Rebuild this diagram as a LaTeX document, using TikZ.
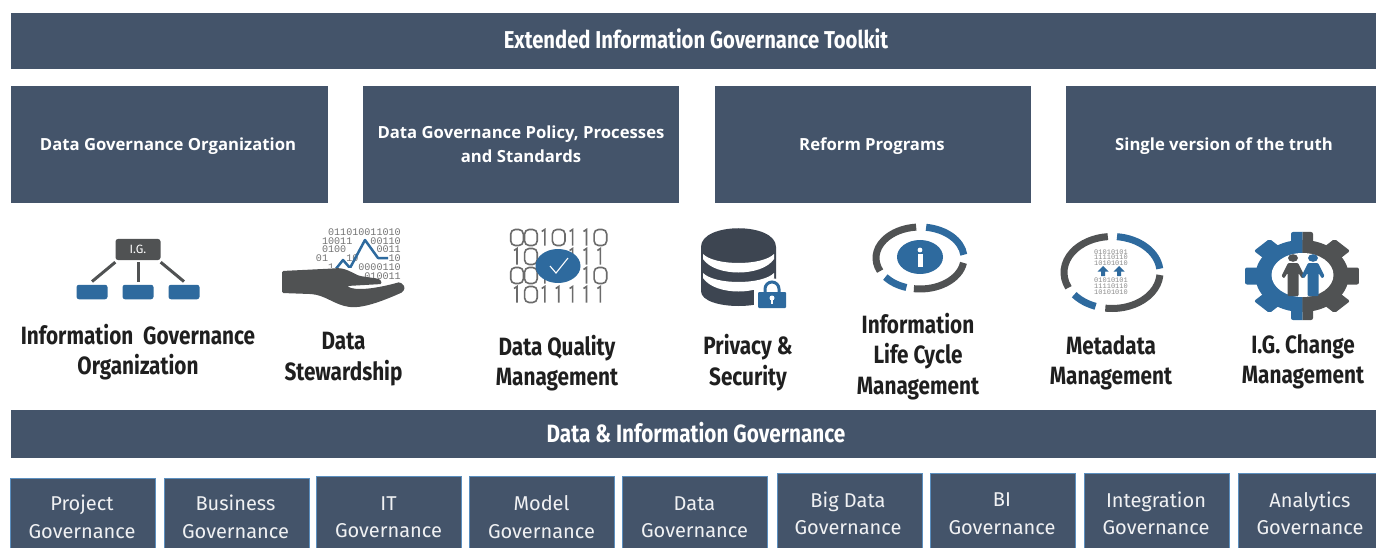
\documentclass[tikz,border=0pt]{standalone}
\usepackage{fontspec}
\setmainfont{Fira Sans}
\newfontfamily\condfont[FakeStretch=0.83]{Fira Sans}
\newfontfamily\headfont{Open Sans}
\newfontfamily\bitfont{Liberation Mono}
\definecolor{slate}{HTML}{44546A}
\definecolor{iconblue}{HTML}{2E6A9E}
\definecolor{icongray}{HTML}{505253}
\definecolor{dbdark}{HTML}{3D4551}
\definecolor{edgeblue}{HTML}{5B8FBF}
\newcommand{\gearshape}[1]{%
  \begin{scope}[shift={(1302,276)},xscale=1.295]
    \fill[#1] (0,0) circle[radius=36];
    \foreach \a in {0,45,...,315}
      \fill[#1,rotate=\a,rounded corners=2] (-8.5,-44) rectangle (8.5,0);
  \end{scope}}
\newcommand{\bigbit}[3]{% column, row, digit
  \pgfmathsetmacro{\bx}{517+13.9*#1}
  \pgfmathsetmacro{\by}{237.5+19*#2}
  \ifnum#3=0
    \draw[bitline,rounded corners=4.5] (\bx-6.3,\by-8) rectangle (\bx+6.3,\by+8);
  \else
    \draw[bitline] (\bx-3,\by-6) -- (\bx,\by-8) -- (\bx,\by+8);
  \fi}
\tikzset{
  card/.style={fill=slate,text=white,align=center,inner sep=0pt,font=\headfont\bfseries\fontsize{16.7}{24}\selectfont},
  gov/.style={fill=slate,draw=edgeblue,line width=.8pt,inner sep=0pt},
  govtext/.style={align=center,inner sep=0pt,text=white!92!slate,font=\fontsize{20}{27.5}\selectfont},
  label/.style={text=black!88,align=center,inner sep=0pt,font=\condfont\bfseries\fontsize{25}{30.5}\selectfont},
  ring/.style={line width=7pt,draw=#1},
  link/.style={draw=icongray,line width=3pt},
  bitline/.style={draw=black!58,line width=1.6pt},
  bits/.style={inner sep=0pt,text=black!55,font=\bitfont\fontsize{10.1}{10}\selectfont},
  tinybits/.style={inner sep=0pt,text=black!45,font=\bitfont\fontsize{7}{7}\selectfont},
}
\begin{document}
\begin{tikzpicture}[x=1pt,y=-1pt]
\useasboundingbox (0,0) rectangle (1376,548);
\fill[white] (0,0) rectangle (1376,548);

% bands
\fill[slate] (11,13) rectangle (1376,69);
\node[text=white,inner sep=0pt,font=\condfont\bfseries\fontsize{24.4}{30}\selectfont] (title) at (696,39) {Extended Information Governance Toolkit};
\fill[slate] (11,410) rectangle (1376,458);
\node[text=white,inner sep=0pt,font=\condfont\bfseries\fontsize{25}{30}\selectfont] (digov) at (696,433) {Data \& Information Governance};

% cards
\node[card,minimum width=317pt,minimum height=117pt] (c1) at (169.5,144.5) {};
\node[card,fill=none] (c1t) at (168,146.5) {Data Governance Organization};
\node[card,minimum width=316pt,minimum height=117pt] (c2) at (521,144.5) {Data Governance Policy, Processes\\and Standards};
\node[card,minimum width=316pt,minimum height=117pt] (c3) at (873,144.5) {};
\node[card,fill=none] (c3t) at (872,146.5) {Reform Programs};
\fill[slate] (1066,86) rectangle (1376,203);
\node[card,fill=none] (c4) at (1224,146.5) {Single version of the truth};

% icon 1
\node[fill=icongray,rounded corners=2.5pt,minimum width=45pt,minimum height=21pt,inner sep=0pt,text=white!75,font=\fontsize{12}{12}\selectfont] (ig) at (138,249.5) {I.G.};
\node[fill=iconblue,rounded corners=2.5pt,minimum width=31pt,minimum height=14.5pt,inner sep=0pt] (ig1) at (92,292) {};
\node[fill=iconblue,rounded corners=2.5pt,minimum width=31pt,minimum height=14.5pt,inner sep=0pt] (ig2) at (138,292) {};
\node[fill=iconblue,rounded corners=2.5pt,minimum width=31pt,minimum height=14.5pt,inner sep=0pt] (ig3) at (184,292) {};
\draw[link] ([yshift=-2pt]ig.south west) -- ([yshift=3pt]ig1.north);
\draw[link] ([yshift=-2pt]ig.south) -- ([yshift=3pt]ig2.north);
\draw[link] ([yshift=-2pt]ig.south east) -- ([yshift=3pt]ig3.north);

% icon 2
\node[bits,anchor=east] (b1) at (401,232) {011010011010};
\node[bits,anchor=east] (b2) at (401,241) {10011\ \ \ 00110};
\node[bits,anchor=east] (b3) at (401,249.5) {0100\ \ \ \ \ 0011};
\node[bits,anchor=east] (b4) at (401,258) {01\ \ \ 10\ \ \ \ \ 10};
\node[bits,anchor=east] (b5) at (401,267) {1\ \ \ \ 0000110};
\node[bits,anchor=east] (b6) at (401,276) {010011};
\draw[iconblue,line width=2.5pt,line join=round] (335,270) -- (343,260) -- (350,268) -- (365,240) -- (378,258) -- (388,258);
\fill[white] (282,268) rectangle (355,275);
\fill[icongray,rounded corners=1.5pt] (282,271) -- (333,268.5) .. controls (345,267) and (352,273) .. (360,276) -- (380,279) -- (382,284) -- (347,286) .. controls (355,291) and (375,289) .. (400,282) -- (405,287) -- (403,292) .. controls (385,300) and (365,308) .. (350,307) .. controls (335,305) and (325,295) .. (310,294) -- (282,293) -- cycle;

% icon 3
\foreach \c/\d in {0/0,1/0,2/1,3/0,4/1,5/1,6/0} {\bigbit{\c}{0}{\d}}
\foreach \c/\d in {0/1,1/0,4/1,5/1,6/1} {\bigbit{\c}{1}{\d}}
\foreach \c/\d in {0/0,1/0,2/1,5/1,6/0} {\bigbit{\c}{2}{\d}}
\foreach \c/\d in {0/1,1/0,2/1,3/1,4/1,5/1,6/1} {\bigbit{\c}{3}{\d}}
\fill[iconblue] (558,266) ellipse[x radius=22.5,y radius=17];
\draw[white,line width=1.1pt] (550,266) -- (556,273) -- (568,258);

% icon 4
\fill[dbdark,rounded corners=3pt] (701,250) .. controls (701,222) and (776,222) .. (776,250) -- (776,288) .. controls (776,311) and (701,311) .. (701,288) -- cycle;
\fill[white] (703,254) .. controls (715,266) and (762,266) .. (774,254) -- (774,259) .. controls (762,277) and (715,277) .. (703,259) -- cycle;
\fill[white] (703,273) .. controls (715,285) and (762,285) .. (774,273) -- (774,278) .. controls (762,296) and (715,296) .. (703,278) -- cycle;
\fill[white] (754,287) rectangle (790,312);
\fill[white] (772,291) circle[radius=13];
\draw[iconblue,line width=3pt] (765,294) -- (765,289) arc[start angle=180,end angle=360,radius=7] -- (779,294);
\fill[iconblue,rounded corners=1pt] (758,292) rectangle (786,308);
\fill[white] (772,298) circle[radius=2.5];
\fill[white] (771,299) rectangle (773,304);

% icon 5
\draw[ring=icongray] (920,258) ++(155:44 and 31) arc[start angle=155,end angle=265,x radius=44,y radius=31];
\draw[ring=iconblue] (920,258) ++(-82:44 and 31) arc[start angle=-82,end angle=-6,x radius=44,y radius=31];
\draw[ring=icongray] (920,258) ++(9:44 and 31) arc[start angle=9,end angle=98,x radius=44,y radius=31];
\draw[ring=iconblue] (920,258) ++(108:44 and 31) arc[start angle=108,end angle=142,x radius=44,y radius=31];
\fill[iconblue] (920,257) ellipse[x radius=23,y radius=17];
\fill[white] (920,250) circle[radius=2.4];
\fill[white] (917.5,254) rectangle (922.5,267);

% icon 6
\draw[ring=icongray] (1112,272.5) ++(155:48 and 36) arc[start angle=155,end angle=265,x radius=48,y radius=36];
\draw[ring=iconblue] (1112,272.5) ++(-84:48 and 36) arc[start angle=-84,end angle=-6,x radius=48,y radius=36];
\draw[ring=icongray] (1112,272.5) ++(4:48 and 36) arc[start angle=4,end angle=98,x radius=48,y radius=36];
\draw[ring=iconblue] (1112,272.5) ++(110:48 and 36) arc[start angle=110,end angle=142,x radius=48,y radius=36];
\node[tinybits] (m1) at (1111,252) {01010101};
\node[tinybits] (m2) at (1111,257.5) {11110110};
\node[tinybits] (m3) at (1111,263) {10101010};
\node[tinybits] (m4) at (1111,280) {01010101};
\node[tinybits] (m5) at (1111,286) {11110110};
\node[tinybits] (m6) at (1111,292) {10101010};
\foreach \ax in {1103,1119}
  \fill[iconblue] (\ax,266) -- (\ax+5.5,271.5) -- (\ax+2,271.5) -- (\ax+2,276) -- (\ax-2,276) -- (\ax-2,271.5) -- (\ax-5.5,271.5) -- cycle;

% icon 7
\begin{scope}\clip (1240,225) rectangle (1302.5,325); \gearshape{iconblue}\end{scope}
\begin{scope}\clip (1302.5,225) rectangle (1365,325); \gearshape{icongray}\end{scope}
\fill[white] (1302.5,275) ellipse[x radius=31,y radius=22];
\foreach \px/\pc in {1293/icongray,1313/iconblue} {
  \fill[\pc] (\px,258) ellipse[x radius=5,y radius=3.8];
  \fill[\pc,rounded corners=1pt] (\px-5,263) -- (\px+5,263) -- (\px+11.5,276) -- (\px+9,278.5) -- (\px+5.5,273) -- (\px+5.5,296) -- (\px-5.5,296) -- (\px-5.5,273) -- (\px-9,278.5) -- (\px-11.5,276) -- cycle;
}

% labels
\node[label] (l1) at (138,352) {Information\ \ Governance\\Organization};
\node[label] (l2) at (343.5,359) {Data\\Stewardship};
\node[label] (l3) at (557,363) {Data Quality\\Management};
\node[label] (l4) at (748,362.5) {Privacy \&\\Security};
\node[label] (l5) at (918,356.5) {Information\\Life Cycle\\Management};
\node[label] (l6) at (1111,363) {Metadata\\Management};
\node[label] (l7) at (1303,362) {I.G. Change\\Management};

% governance boxes
\foreach \nm/\x/\t in {g1/10/478,g2/164/478,g3/316/476,g4/469/476,g5/622/476,g6/777/473,g7/930/473,g8/1084/473,g9/1238/473}
  \node[gov,anchor=north west,minimum width=145pt,minimum height=80pt] (\nm) at (\x,\t) {};
\foreach \nm/\cx/\cy/\a/\b in {g1/82/517/Project/Governance,g2/235.5/517/Business/Governance,g3/388.5/517/IT/Governance,g4/541.5/517/Model/Governance,g5/694.5/517/Data/Governance,g6/848/513.5/Big Data/Governance,g7/1002/513.5/BI/Governance,g8/1156/513.5/Integration/Governance,g9/1310/513.5/Analytics/Governance}
  \node[govtext] (\nm t) at (\cx,\cy) {\a\\\b};
\end{tikzpicture}
\end{document}
